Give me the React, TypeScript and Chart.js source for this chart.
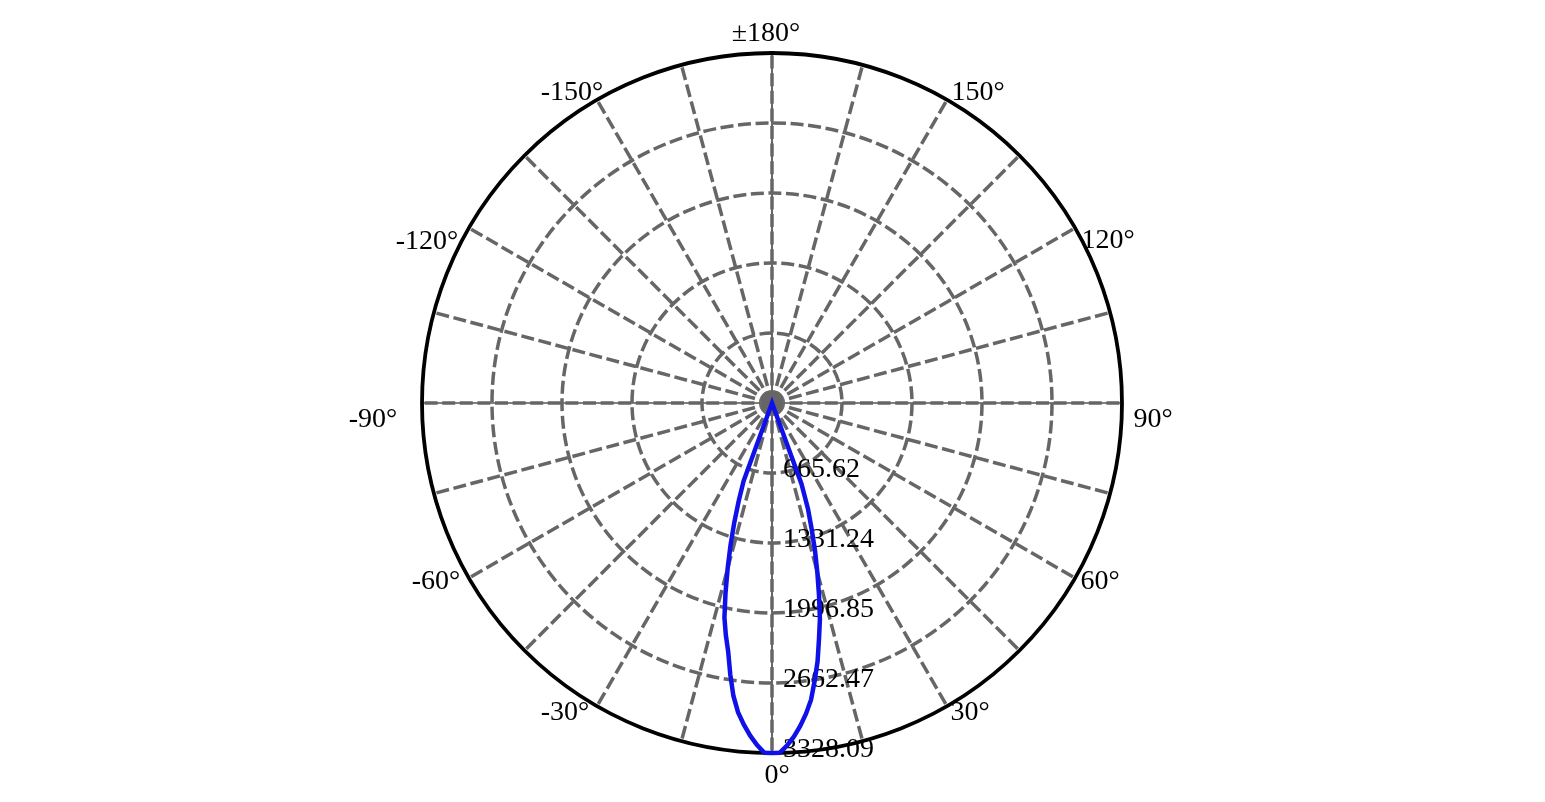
import React, { useEffect, useRef } from 'react';
import { Chart, registerables } from 'chart.js';

Chart.register(...registerables);

const STEP = 1.25;

// dial categories, clockwise on screen starting with 0° at the bottom
const dialAngles: number[] = Array.from({ length: 360 / STEP }, (_, i) => {
  const a = -i * STEP;
  return a <= -180 ? a + 360 : a;
});

const beamAngles = [
  -21.25, -20, -18.75, -17.5, -16.25, -15, -13.75, -12.5, -11.25, -10, -8.75, -7.5, -6.25, -5, -3.75, -2.5, -1.25,
  0,
  1.25, 2.5, 3.75, 5, 6.25, 7.5, 8.75, 10, 11.25, 12.5, 13.75, 15, 16.25, 17.5, 18.75, 20, 21.25,
];
const beamCandela = [
  0, 790, 985, 1195, 1410, 1630, 1860, 2090, 2250, 2400, 2610, 2810, 2960, 3070, 3170, 3255, 3326,
  3328.09,
  3327, 3262, 3180, 3082, 2972, 2845, 2670, 2495, 2290, 2105, 1880, 1665, 1460, 1250, 1065, 820, 0,
];

const tickValues = [665.62, 1331.24, 1996.85, 2662.47, 3328.09];
const tickLabels = ['665.62', '1331.24', '1996.85', '2662.47', '3328.09'];

const labelAngles = [0, 30, 60, 90, 120, 150, 180, -150, -120, -90, -60, -30];
const labelTexts = ['0°', '30°', '60°', '90°', '120°', '150°', '±180°', '-150°', '-120°', '-90°', '-60°', '-30°'];

const MAX = tickValues[tickValues.length - 1];
const GRID = '#666666';
const FONT = '28px "Liberation Serif", "Times New Roman", serif';
const SPOKE_EVERY = 15;

// nudges for the angle labels relative to the rim point
const labelNudge: Record<number, [number, number]> = {
  0: [5, 23], 30: [23, 7], 60: [25, 4], 90: [31, 17], 120: [33, 13], 150: [31, -7],
  180: [-6, -19], [-150]: [-25, -7], [-120]: [-42, 14], [-90]: [-49, 17], [-60]: [-33, 4], [-30]: [-32, 7],
};

const indexOfAngle = (a: number) => {
  const i = Math.round(-a / STEP);
  const n = dialAngles.length;
  return ((i % n) + n) % n;
};

const dialText = {
  id: 'dialText',
  beforeDraw(chart: any) {
    const r = chart.scales.r;
    const ctx = chart.ctx;
    ctx.save();
    ctx.strokeStyle = '#000';
    ctx.lineWidth = 1.2;
    [0, 90, 180, -90].forEach((a) => {
      const p = r.getPointPosition(indexOfAngle(a), r.drawingArea);
      ctx.beginPath();
      ctx.moveTo(r.xCenter, r.yCenter);
      ctx.lineTo(p.x, p.y);
      ctx.stroke();
    });
    ctx.restore();
  },
  beforeDatasetsDraw(chart: any) {
    const r = chart.scales.r;
    const ctx = chart.ctx;
    ctx.save();
    ctx.font = FONT;
    ctx.fillStyle = '#000';
    ctx.textAlign = 'left';
    ctx.textBaseline = 'middle';
    tickValues.forEach((v, i) => {
      const p = r.getPointPosition(0, r.getDistanceFromCenterForValue(v));
      ctx.fillText(tickLabels[i], p.x + 11, p.y - 3);
    });
    ctx.textAlign = 'center';
    labelAngles.forEach((a, i) => {
      const p = r.getPointPosition(indexOfAngle(a), r.drawingArea);
      const [dx, dy] = labelNudge[a];
      ctx.fillText(labelTexts[i], p.x + dx, p.y + dy);
    });
    ctx.restore();
  },
};

const App: React.FC = () => {
  const canvasRef = useRef<HTMLCanvasElement>(null);

  useEffect(() => {
    if (!canvasRef.current) return;
    const values = dialAngles.map((a) => {
      const k = beamAngles.indexOf(a);
      return k >= 0 ? beamCandela[k] : 0;
    });
    const spokeIndex = Math.round(SPOKE_EVERY / STEP);

    const chart = new Chart(canvasRef.current, {
      type: 'radar',
      data: {
        labels: dialAngles.map((a) => `${a}°`),
        datasets: [
          {
            data: values,
            borderColor: 'rgb(16, 16, 232)',
            borderWidth: 4.5,
            pointRadius: 0,
            pointHoverRadius: 0,
            fill: false,
            tension: 0,
          },
        ],
      },
      options: {
        animation: false,
        responsive: true,
        maintainAspectRatio: false,
        layout: { padding: { top: 53, bottom: 49, left: 0, right: 0 } },
        plugins: { legend: { display: false }, tooltip: { enabled: false } },
        scales: {
          r: {
            min: 0,
            max: MAX,
            startAngle: 180,
            afterBuildTicks: (scale: any) => {
              scale.ticks = [0, ...tickValues].map((value) => ({ value }));
            },
            ticks: { display: false },
            pointLabels: { display: false },
            grid: {
              circular: true,
              color: (c: any) => (c.index === tickValues.length ? '#000' : GRID),
              lineWidth: (c: any) => (c.index === tickValues.length ? 3.8 : 3.5),
            },
            border: { dash: (c: any) => (c.index === tickValues.length ? [] : [13, 4.6]) },
            angleLines: {
              color: GRID,
              lineWidth: (c: any) => (c.index % spokeIndex === 0 ? 3.5 : 0),
              borderDash: [13, 4.6],
            },
          },
        },
      },
      plugins: [dialText],
    } as any);

    return () => chart.destroy();
  }, []);

  return (
    <div style={{ position: 'fixed', left: 0, top: 0, width: 1545, height: 802, background: '#fff' }}>
      <canvas ref={canvasRef}></canvas>
    </div>
  );
};

export default App;
